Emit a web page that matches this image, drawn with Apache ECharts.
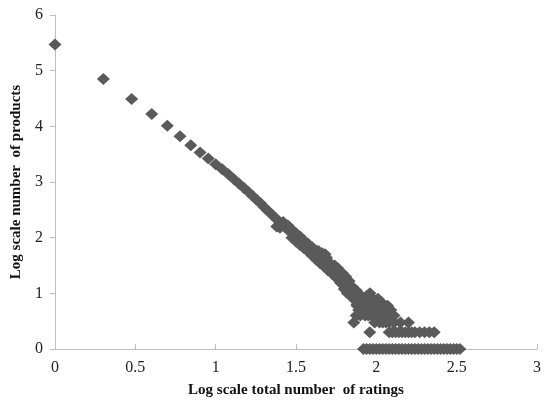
<!DOCTYPE html>
<html>
<head>
<meta charset="utf-8">
<script src="https://cdn.jsdelivr.net/npm/echarts@6/dist/echarts.min.js"></script>
<style>
  html, body { margin: 0; padding: 0; background: #fff; }
  #main { width: 544px; height: 403px; }
</style>
</head>
<body>
<div id="main"></div>
<script>
// 轴标题
var xTitle = 'Log scale total number  of ratings';
var yTitle = 'Log scale number  of products';

// 前几个孤立点
var headPoints = [
    [0, 5.47], [0.301, 4.85], [0.477, 4.49], [0.602, 4.22], [0.699, 4.01],
    [0.778, 3.82], [0.845, 3.66], [0.903, 3.53], [0.954, 3.42]
];

// 主带
var bandPoints = [
    [1.000, 3.32], [1.041, 3.23], [1.079, 3.14], [1.114, 3.05], [1.146, 2.97],
    [1.176, 2.89], [1.204, 2.82], [1.230, 2.75], [1.255, 2.68], [1.279, 2.62],
    [1.301, 2.55], [1.322, 2.49], [1.342, 2.44], [1.362, 2.38], [1.380, 2.33],
    [1.398, 2.28], [1.415, 2.24], [1.431, 2.19], [1.447, 2.15], [1.462, 2.11],
    [1.477, 2.07], [1.505, 2.00], [1.531, 1.93], [1.556, 1.87], [1.580, 1.80],
    [1.602, 1.75], [1.623, 1.69], [1.643, 1.64], [1.663, 1.58], [1.681, 1.53],
    [1.699, 1.49], [1.724, 1.42], [1.748, 1.35], [1.771, 1.28], [1.792, 1.22],
    [1.813, 1.15], [1.833, 1.08], [1.851, 1.02], [1.869, 0.95], [1.886, 0.90],
    [1.903, 0.85], [1.924, 0.78], [1.944, 0.72], [1.964, 0.68], [1.982, 0.62],
    [2.000, 0.60]
];

// 带的上下沿（加厚）
var bandUpper = [
    [1.475, 2.14], [1.50, 2.08], [1.525, 2.02], [1.55, 1.95], [1.575, 1.89],
    [1.60, 1.83], [1.625, 1.77], [1.65, 1.70], [1.675, 1.64], [1.70, 1.57],
    [1.725, 1.50], [1.75, 1.43], [1.775, 1.36], [1.80, 1.29], [1.825, 1.21],
    [1.85, 1.12], [1.875, 1.05], [1.90, 0.97]
];
var bandLower = [
    [1.475, 2.00], [1.50, 1.93], [1.525, 1.87], [1.55, 1.81], [1.575, 1.75],
    [1.60, 1.68], [1.625, 1.61], [1.65, 1.54], [1.675, 1.48], [1.70, 1.41],
    [1.725, 1.35], [1.75, 1.28], [1.775, 1.21], [1.80, 1.13], [1.825, 1.04],
    [1.85, 0.95], [1.865, 0.88], [1.88, 0.80]
];

// 带上的凸起和散点
var noisePoints = [
    [1.380, 2.20], [1.420, 2.28], [1.450, 2.22], [1.400, 2.18],
    [1.640, 1.76], [1.663, 1.72], [1.681, 1.70], [1.690, 1.64],
    [1.740, 1.50], [1.760, 1.45], [1.790, 1.36], [1.810, 1.30], [1.830, 1.22],
    [1.780, 1.18], [1.800, 1.08], [1.820, 1.00], [1.840, 0.95],
    [1.860, 0.477], [1.875, 0.602], [1.890, 0.699], [1.900, 0.602],
    [1.920, 0.903], [1.940, 0.954], [1.960, 1.000], [1.980, 0.903],
    [2.000, 0.845], [2.020, 0.778], [2.040, 0.699], [2.060, 0.602],
    [2.080, 0.699], [2.095, 0.602], [1.990, 0.477], [1.950, 0.602],
    [1.880, 0.778], [1.900, 0.954], [1.910, 0.778], [1.930, 0.699],
    [1.950, 0.845], [1.970, 0.778], [1.970, 0.602], [1.990, 0.699],
    [2.010, 0.602], [2.010, 0.903], [2.030, 0.845], [2.050, 0.778],
    [2.070, 0.778], [2.050, 0.602], [2.090, 0.699], [2.030, 0.602],
    [1.930, 0.602], [2.110, 0.602],
    [2.020, 0.477], [2.040, 0.477], [2.060, 0.477], [2.080, 0.477],
    [2.110, 0.477], [2.150, 0.477], [2.200, 0.477], [1.959, 0.301]
];

// y = log10(2) 一行
var twoRow = [
    [2.08, 0.301], [2.10, 0.301], [2.12, 0.301], [2.14, 0.301], [2.16, 0.301],
    [2.18, 0.301], [2.20, 0.301], [2.22, 0.301], [2.24, 0.301], [2.27, 0.301],
    [2.30, 0.301], [2.33, 0.301], [2.36, 0.301]
];

// y = 0 一行
var zeroRow = [
    [1.92, 0], [1.94, 0], [1.96, 0], [1.98, 0], [2.00, 0], [2.02, 0], [2.04, 0],
    [2.06, 0], [2.08, 0], [2.10, 0], [2.12, 0], [2.14, 0], [2.16, 0], [2.18, 0],
    [2.20, 0], [2.22, 0], [2.24, 0], [2.26, 0], [2.28, 0], [2.30, 0], [2.32, 0],
    [2.34, 0], [2.36, 0], [2.38, 0], [2.40, 0], [2.42, 0], [2.44, 0], [2.46, 0],
    [2.48, 0], [2.50, 0], [2.52, 0]
];

var allPoints = headPoints.concat(bandPoints, bandUpper, bandLower, noisePoints, twoRow, zeroRow);

var chart = echarts.init(document.getElementById('main'));

var labelStyle = {
    fontFamily: 'Liberation Serif',
    fontSize: 16,
    color: '#222'
};
var nameStyle = {
    fontFamily: 'Liberation Serif',
    fontSize: 15,
    fontWeight: 'bold',
    color: '#111'
};

chart.setOption({
    animation: false,
    backgroundColor: '#fff',
    grid: { left: 55, right: 7, top: 15, bottom: 52 },
    xAxis: {
        type: 'value',
        min: 0, max: 3, interval: 0.5,
        name: xTitle,
        nameLocation: 'middle',
        nameGap: 34,
        nameTextStyle: nameStyle,
        axisLine: { lineStyle: { color: '#bfbfbf', width: 1 } },
        axisTick: { show: true, inside: true, length: 5, lineStyle: { color: '#bfbfbf' } },
        axisLabel: Object.assign({ margin: 11 }, labelStyle),
        splitLine: { show: false }
    },
    yAxis: {
        type: 'value',
        min: 0, max: 6, interval: 1,
        name: yTitle,
        nameLocation: 'middle',
        nameGap: 24,
        nameTextStyle: nameStyle,
        axisLine: { show: true, lineStyle: { color: '#bfbfbf', width: 1 } },
        axisTick: { show: true, length: 5, lineStyle: { color: '#bfbfbf' } },
        axisLabel: Object.assign({ margin: 12 }, labelStyle),
        splitLine: { show: false }
    },
    series: [{
        type: 'scatter',
        symbol: 'diamond',
        symbolSize: [13, 12],
        itemStyle: { color: '#5a5a5a', opacity: 1 },
        data: allPoints
    }]
});
</script>
</body>
</html>
